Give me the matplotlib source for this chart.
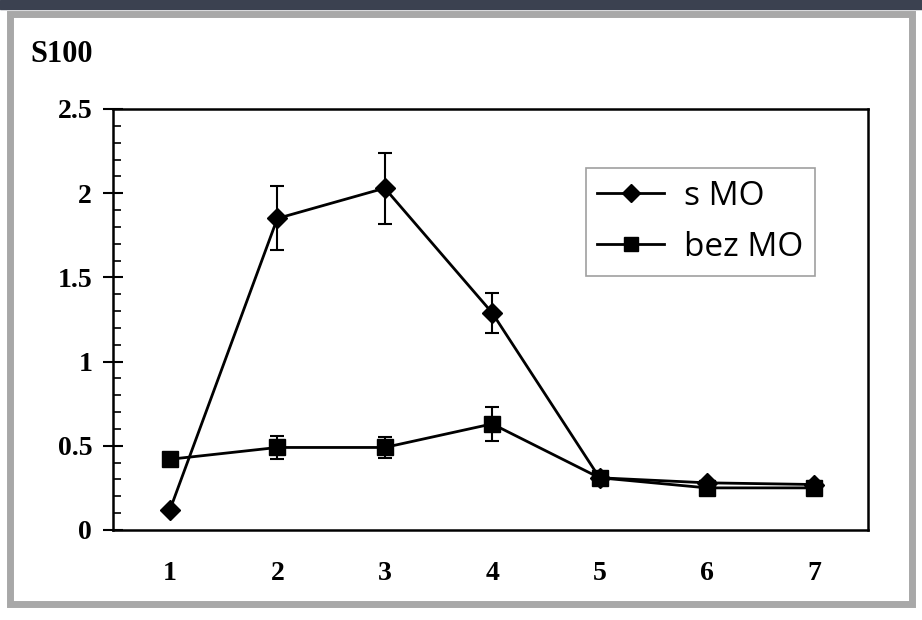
import matplotlib.pyplot as plt
from matplotlib.patches import Rectangle
from matplotlib.ticker import MultipleLocator

days = [1, 2, 3, 4, 5, 6, 7]
s_mo = [0.12, 1.85, 2.03, 1.29, 0.31, 0.28, 0.27]
s_mo_err = [0.0, 0.19, 0.21, 0.12, 0.0, 0.0, 0.0]
bez_mo = [0.42, 0.49, 0.49, 0.63, 0.31, 0.25, 0.25]
bez_mo_err = [0.03, 0.07, 0.06, 0.10, 0.02, 0.02, 0.02]
yticks = [0, 0.5, 1, 1.5, 2, 2.5]
ytick_labels = ['0', '0.5', '1', '1.5', '2', '2.5']

fig = plt.figure(figsize=(9.22, 6.2), dpi=100)

# outer frame like the screenshot
fig.patches.append(Rectangle((0, 0.985), 1, 0.015, transform=fig.transFigure,
                             color='#3b4150', zorder=-1))
fig.patches.append(Rectangle((0.011, 0.026), 0.978, 0.952, transform=fig.transFigure,
                             facecolor='white', edgecolor='#a8a8a8', lw=5, zorder=-1))

ax = fig.add_axes([0.1226, 0.1452, 0.8188, 0.679], zorder=1)
ax.patch.set_alpha(0)
serif = ['Liberation Serif', 'DejaVu Serif']

e1 = ax.errorbar(days, s_mo, yerr=s_mo_err, color='black', lw=2, marker='D', ms=10,
                 capsize=5, elinewidth=1.5, capthick=1.5)
e2 = ax.errorbar(days, bez_mo, yerr=bez_mo_err, color='black', lw=2, marker='s', ms=11,
                 capsize=5, elinewidth=1.5, capthick=1.5)

ax.set_xlim(0.47, 7.5)
ax.set_ylim(0, 2.5)
ax.set_xticks(days)
ax.set_yticks(yticks)
ax.set_yticklabels(ytick_labels)
ax.yaxis.set_minor_locator(MultipleLocator(0.1))
ax.tick_params(axis='x', length=0, pad=22)
ax.tick_params(axis='y', which='major', direction='inout', length=14, width=1.5, pad=8)
ax.tick_params(axis='y', which='minor', direction='in', length=6, width=1.2)
for lab in ax.get_xticklabels() + ax.get_yticklabels():
    lab.set_fontfamily(serif)
    lab.set_fontweight('bold')
    lab.set_fontsize(20)
for sp in ax.spines.values():
    sp.set_linewidth(1.8)

leg = ax.legend([e1[0], e2[0]], ['s MO', 'bez MO'], loc='upper left',
                bbox_to_anchor=(0.626, 0.86), borderaxespad=0, frameon=True, fancybox=False,
                edgecolor='#888888', prop={'family': 'Open Sans', 'size': 24},
                handlelength=2.0, borderpad=0.35, labelspacing=0.55, handletextpad=0.6,
                markerscale=0.9)
leg.get_frame().set_linewidth(1.2)

fig.text(0.033, 0.9, 'S100', fontfamily=serif, fontweight='bold', fontsize=22)

fig.savefig('out.png', dpi=100)
